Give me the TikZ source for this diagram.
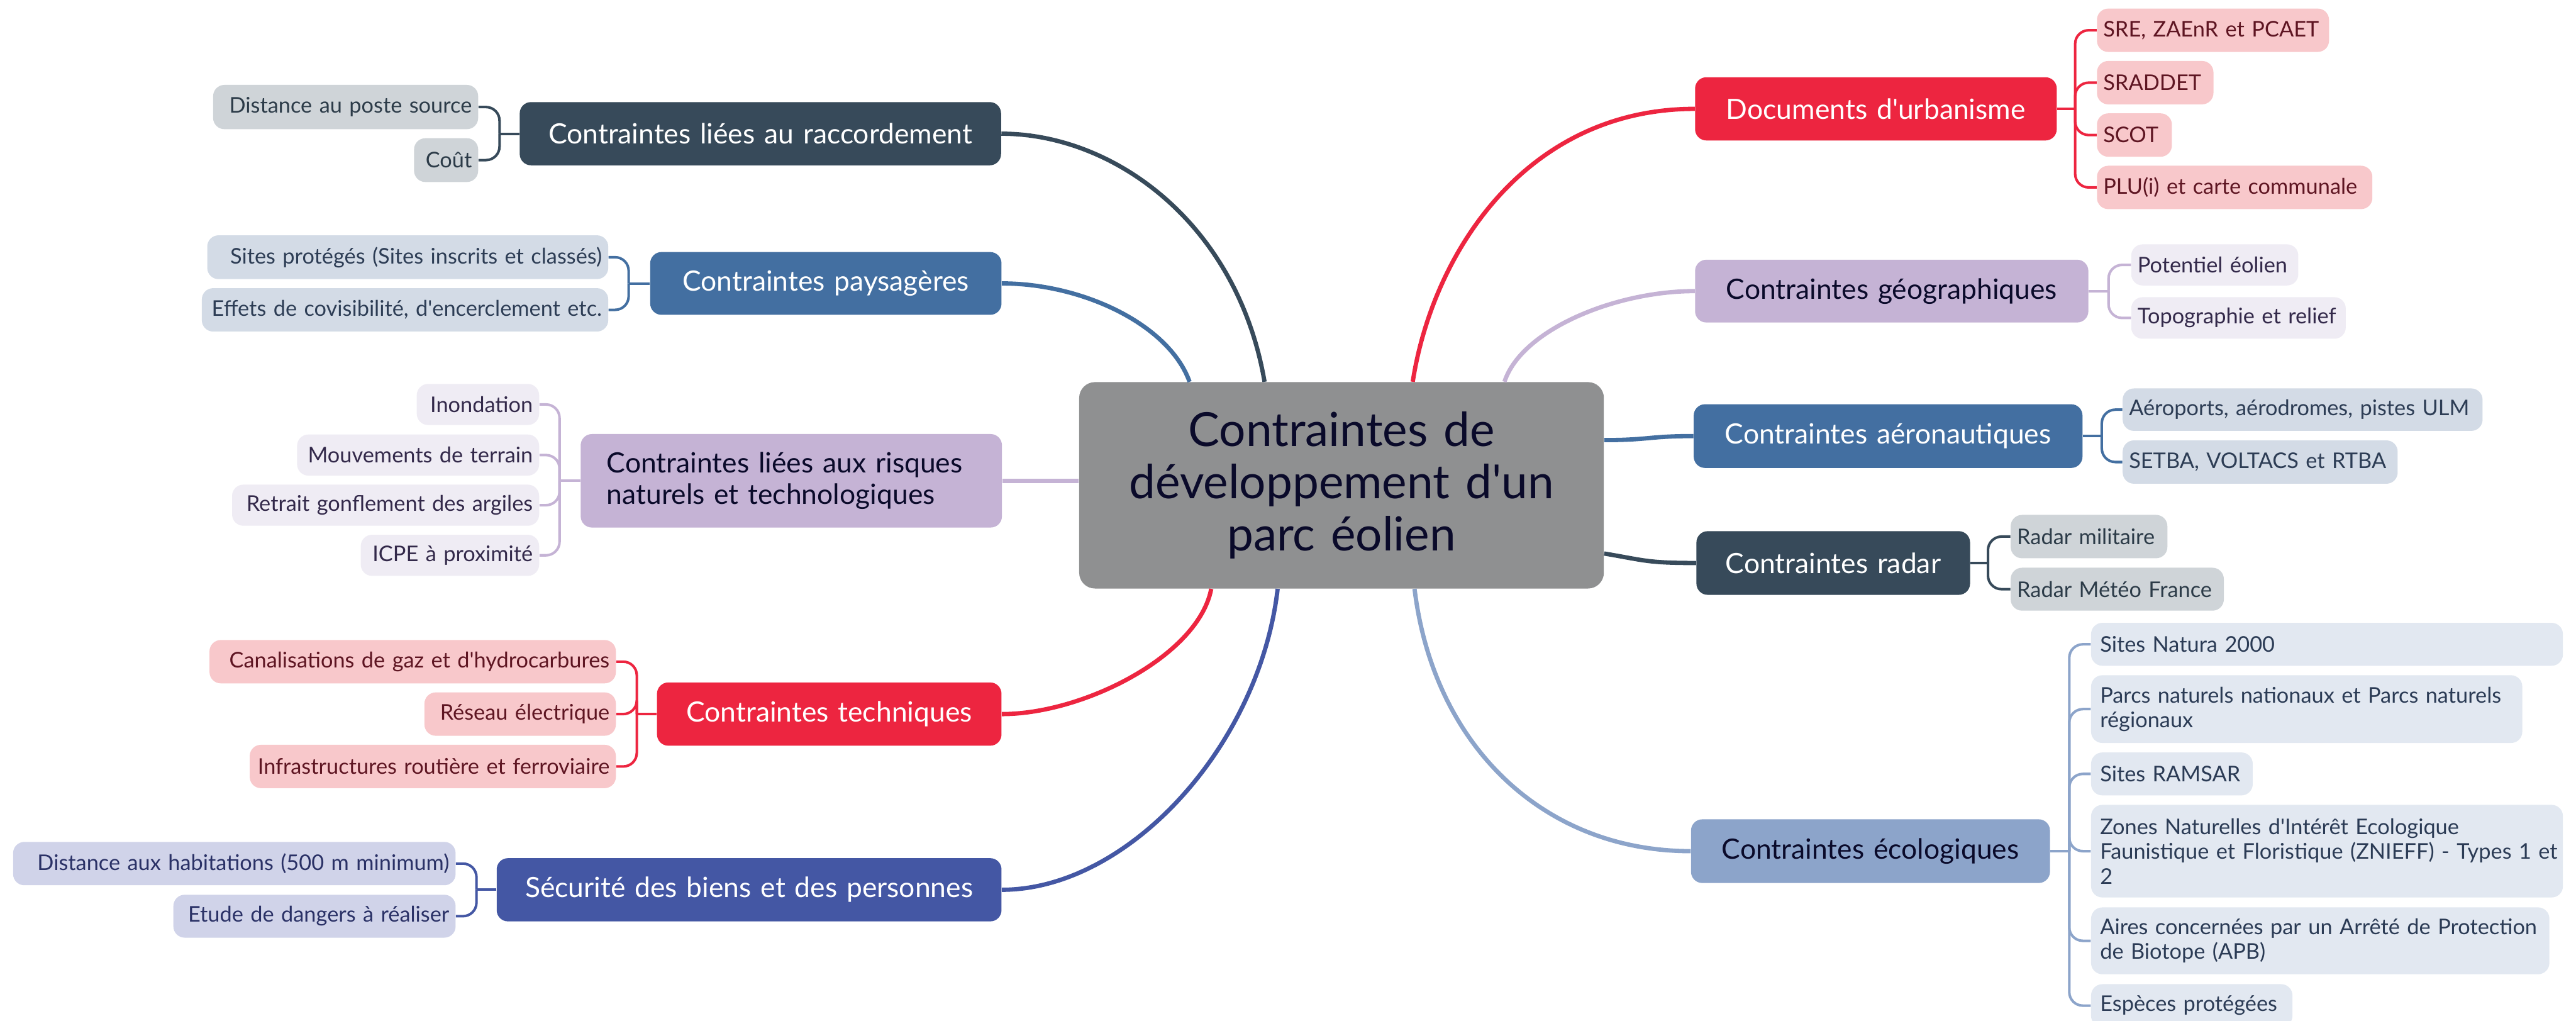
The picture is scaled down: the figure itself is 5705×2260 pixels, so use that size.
\documentclass[tikz,border=0pt]{standalone}
\usepackage{fontspec}
\setmainfont{Lato}
\definecolor{cDark}{HTML}{374A5A}
\definecolor{cDarkL}{HTML}{CFD4D8}
\definecolor{cDarkT}{HTML}{2C3B48}
\definecolor{cBlue}{HTML}{436FA1}
\definecolor{cBlueL}{HTML}{D3DBE6}
\definecolor{cBlueT}{HTML}{2D3D55}
\definecolor{cLil}{HTML}{C5B3D5}
\definecolor{cLilL}{HTML}{EFECF4}
\definecolor{cLilT}{HTML}{33294A}
\definecolor{cRed}{HTML}{ED2540}
\definecolor{cRedL}{HTML}{F8C8CB}
\definecolor{cRedT}{HTML}{5E1522}
\definecolor{cNavy}{HTML}{4457A4}
\definecolor{cNavyL}{HTML}{D0D3E9}
\definecolor{cNavyT}{HTML}{2A3166}
\definecolor{cSky}{HTML}{8CA4CA}
\definecolor{cSkyL}{HTML}{E2E8F1}
\definecolor{cSkyT}{HTML}{2B3B55}
\definecolor{cCore}{HTML}{8F9091}
\definecolor{cCoreT}{HTML}{0A0A2A}
\newcommand\ap{\textquotesingle}
% box from (x1,y1) to (x2,y2) in pixel units: name, x1, y1, x2, y2, style, text, padding
\newcommand\boxnode[8]{%
  \node[#6, inner xsep={#8*0.01cm}, inner ysep=0pt,
        minimum height={(#5-#3)*0.01cm},
        text width={(#4-#2-2*#8)*0.01cm}]
       (#1) at ({(#2+#4)/2},{(#3+#5)/2}) {#7};}
\tikzset{
  core/.style={fill=cCore, text=cCoreT, rounded corners=0.35cm, align=center,
    font=\fontsize{29.6}{33}\selectfont},
  branch/.style={rounded corners=0.25cm, align=center,
    font=\fontsize{17.6}{19.6}\selectfont},
  leafL/.style={rounded corners=0.25cm, align=right,
    font=\fontsize{13.6}{15.6}\selectfont},
  leafR/.style={rounded corners=0.25cm, align=left,
    font=\fontsize{13.6}{15.6}\selectfont},
  trunk/.style={line width=2.7pt},
  twig/.style={line width=1.6pt, rounded corners=0.3cm},
}
\begin{document}
\begin{tikzpicture}[x=0.01cm, y=-0.01cm]
\path[use as bounding box, fill=white] (0,0) rectangle (5705,2260);

% central topic
\boxnode{core}{2390}{846}{3552}{1303}{core}{Contraintes de\\développement d\ap un\\parc éolien}{40}

% main topics, left side
\boxnode{racc}{1151}{226}{2217}{366}{branch,fill=cDark,text=white}{Contraintes liées au raccordement}{20}
\boxnode{pays}{1440}{558}{2218}{697}{branch,fill=cBlue,text=white}{Contraintes paysagères}{20}
\boxnode{risq}{1286}{961}{2219}{1168}{branch,fill=cLil,text=cCoreT,align=left}{Contraintes liées aux risques\\naturels et technologiques}{58}
\boxnode{tech}{1455}{1511}{2218}{1651}{branch,fill=cRed,text=white}{Contraintes techniques}{20}
\boxnode{secu}{1100}{1900}{2218}{2040}{branch,fill=cNavy,text=white}{Sécurité des biens et des personnes}{20}

% main topics, right side
\boxnode{docs}{3754}{171}{4555}{311}{branch,fill=cRed,text=white}{Documents d\ap urbanisme}{20}
\boxnode{geo}{3754}{575}{4625}{714}{branch,fill=cLil,text=cCoreT}{Contraintes géographiques}{20}
\boxnode{aero}{3751}{895}{4612}{1036}{branch,fill=cBlue,text=white}{Contraintes aéronautiques}{20}
\boxnode{radar}{3757}{1176}{4363}{1317}{branch,fill=cDark,text=white}{Contraintes radar}{20}
\boxnode{eco}{3745}{1814}{4540}{1955}{branch,fill=cSky,text=cCoreT}{Contraintes écologiques}{20}

% subtopics, left side
\boxnode{dist}{472}{188}{1059}{286}{leafL,fill=cDarkL,text=cDarkT}{Distance au poste source}{14}
\boxnode{cout}{917}{306}{1059}{403}{leafL,fill=cDarkL,text=cDarkT}{Coût}{14}

\boxnode{sites}{459}{521}{1347}{618}{leafL,fill=cBlueL,text=cBlueT}{Sites protégés (Sites inscrits et classés)}{14}
\boxnode{effets}{447}{638}{1347}{734}{leafL,fill=cBlueL,text=cBlueT}{Effets de covisibilité, d\ap encerclement etc.}{14}

\boxnode{inond}{923}{850}{1194}{941}{leafL,fill=cLilL,text=cLilT}{Inondation}{14}
\boxnode{mouv}{658}{962}{1194}{1053}{leafL,fill=cLilL,text=cLilT}{Mouvements de terrain}{14}
\boxnode{retr}{514}{1073}{1194}{1164}{leafL,fill=cLilL,text=cLilT}{Retrait gonflement des argiles}{14}
\boxnode{icpe}{799}{1184}{1194}{1275}{leafL,fill=cLilL,text=cLilT}{ICPE à proximité}{14}

\boxnode{cana}{464}{1417}{1364}{1513}{leafL,fill=cRedL,text=cRedT}{Canalisations de gaz et d\ap hydrocarbures}{14}
\boxnode{res}{940}{1533}{1364}{1629}{leafL,fill=cRedL,text=cRedT}{Réseau électrique}{14}
\boxnode{infra}{553}{1649}{1364}{1745}{leafL,fill=cRedL,text=cRedT}{Infrastructures routière et ferroviaire}{14}

\boxnode{hab}{29}{1864}{1009}{1960}{leafL,fill=cNavyL,text=cNavyT}{Distance aux habitations (500 m minimum)}{14}
\boxnode{etude}{384}{1981}{1009}{2076}{leafL,fill=cNavyL,text=cNavyT}{Etude de dangers à réaliser}{14}

% subtopics, right side
\boxnode{sre}{4644}{19}{5158}{115}{leafR,fill=cRedL,text=cRedT}{SRE, ZAEnR et PCAET}{14}
\boxnode{srad}{4644}{135}{4902}{231}{leafR,fill=cRedL,text=cRedT}{SRADDET}{14}
\boxnode{scot}{4644}{251}{4810}{347}{leafR,fill=cRedL,text=cRedT}{SCOT}{14}
\boxnode{plu}{4644}{367}{5254}{463}{leafR,fill=cRedL,text=cRedT}{PLU(i) et carte communale}{14}

\boxnode{pot}{4720}{541}{5090}{632}{leafR,fill=cLilL,text=cLilT}{Potentiel éolien}{14}
\boxnode{topo}{4720}{658}{5195}{750}{leafR,fill=cLilL,text=cLilT}{Topographie et relief}{14}

\boxnode{aerop}{4701}{860}{5498}{954}{leafR,fill=cBlueL,text=cBlueT}{Aéroports, aérodromes, pistes ULM}{14}
\boxnode{setba}{4701}{975}{5310}{1071}{leafR,fill=cBlueL,text=cBlueT}{SETBA, VOLTACS et RTBA}{14}

\boxnode{rmil}{4453}{1140}{4800}{1236}{leafR,fill=cDarkL,text=cDarkT}{Radar militaire}{14}
\boxnode{rmet}{4453}{1257}{4925}{1352}{leafR,fill=cDarkL,text=cDarkT}{Radar Météo France}{14}

\boxnode{n2000}{4631}{1379}{5676}{1474}{leafR,fill=cSkyL,text=cSkyT}{Sites Natura 2000}{20}
\boxnode{parcs}{4631}{1495}{5586}{1645}{leafR,fill=cSkyL,text=cSkyT}{Parcs naturels nationaux et Parcs naturels\\régionaux}{20}
\boxnode{ramsar}{4631}{1666}{4989}{1761}{leafR,fill=cSkyL,text=cSkyT}{Sites RAMSAR}{20}
\boxnode{znieff}{4631}{1782}{5676}{1987}{leafR,fill=cSkyL,text=cSkyT}{Zones Naturelles d\ap Intérêt Ecologique\\\mbox{Faunistique et Floristique (ZNIEFF) - Types 1 et}\\2}{20}
\boxnode{apb}{4631}{2009}{5646}{2157}{leafR,fill=cSkyL,text=cSkyT}{Aires concernées par un Arrêté de Protection\\de Biotope (APB)}{20}
\boxnode{esp}{4631}{2179}{5077}{2274}{leafR,fill=cSkyL,text=cSkyT}{Espèces protégées}{20}

% connectors from the central topic to the main topics
\draw[trunk,cDark] (racc.east) .. controls +(250,0) and +(-60,-350) .. ([xshift=4.11cm]core.north west);
\draw[trunk,cBlue] (pays.east) .. controls +(180,0) and +(-45,-126) .. ([xshift=2.45cm]core.north west);
\draw[trunk,cLil] (risq.east) -- (core.west |- risq.east);
\draw[trunk,cRed] (tech.east) .. controls +(182,0) and +(-28,147) .. ([xshift=2.93cm]core.south west);
\draw[trunk,cNavy] (secu.east) .. controls +(280,0) and +(-40,347) .. ([xshift=4.40cm]core.south west);
\draw[trunk,cRed] ([xshift=7.39cm]core.north west) .. controls +(45,-290) and +(-370,0) .. (docs.west);
\draw[trunk,cLil] ([xshift=9.42cm]core.north west) .. controls +(38,-116) and +(-175,0) .. (geo.west);
\draw[trunk,cBlue] ([yshift=-1.29cm]core.north east) .. controls +(100,0) and +(-100,0) .. (aero.west);
\draw[trunk,cDark] ([yshift=-3.80cm]core.north east) .. controls +(90,15) and +(-110,0) .. (radar.west);
\draw[trunk,cSky] ([xshift=7.43cm]core.south west) .. controls +(42,347) and +(-326,0) .. (eco.west);

% bracket junctions
\coordinate (jracc) at ([xshift=-0.44cm]racc.west);
\coordinate (jpays) at ([xshift=-0.47cm]pays.west);
\coordinate (jrisq) at ([xshift=-0.46cm]risq.west);
\coordinate (jtech) at ([xshift=-0.44cm]tech.west);
\coordinate (jsecu) at ([xshift=-0.44cm]secu.west);
\coordinate (jdocs) at ([xshift=0.40cm]docs.east);
\coordinate (jgeo) at ([xshift=0.44cm]geo.east);
\coordinate (jaero) at ([xshift=0.42cm]aero.east);
\coordinate (jradar) at ([xshift=0.39cm]radar.east);
\coordinate (jeco) at ([xshift=0.42cm]eco.east);

% connectors from the main topics to their subtopics
\draw[twig,cDark] (racc.west) -- (jracc);
\foreach \n in {dist,cout} \draw[twig,cDark] (jracc) |- (\n.east);
\draw[twig,cBlue] (pays.west) -- (jpays);
\foreach \n in {sites,effets} \draw[twig,cBlue] (jpays) |- (\n.east);
\draw[twig,cLil] (risq.west) -- (jrisq);
\foreach \n in {inond,mouv,retr,icpe} \draw[twig,cLil] (jrisq) |- (\n.east);
\draw[twig,cRed] (tech.west) -- (jtech);
\foreach \n in {cana,res,infra} \draw[twig,cRed] (jtech) |- (\n.east);
\draw[twig,cNavy] (secu.west) -- (jsecu);
\foreach \n in {hab,etude} \draw[twig,cNavy] (jsecu) |- (\n.east);

\draw[twig,cRed] (docs.east) -- (jdocs);
\foreach \n in {sre,srad,scot,plu} \draw[twig,cRed] (jdocs) |- (\n.west);
\draw[twig,cLil] (geo.east) -- (jgeo);
\foreach \n in {pot,topo} \draw[twig,cLil] (jgeo) |- (\n.west);
\draw[twig,cBlue] (aero.east) -- (jaero);
\foreach \n in {aerop,setba} \draw[twig,cBlue] (jaero) |- (\n.west);
\draw[twig,cDark] (radar.east) -- (jradar);
\foreach \n in {rmil,rmet} \draw[twig,cDark] (jradar) |- (\n.west);
\draw[twig,cSky] (eco.east) -- (jeco);
\foreach \n in {n2000,parcs,ramsar,znieff,apb,esp} \draw[twig,cSky] (jeco) |- (\n.west);
\end{tikzpicture}
\end{document}
